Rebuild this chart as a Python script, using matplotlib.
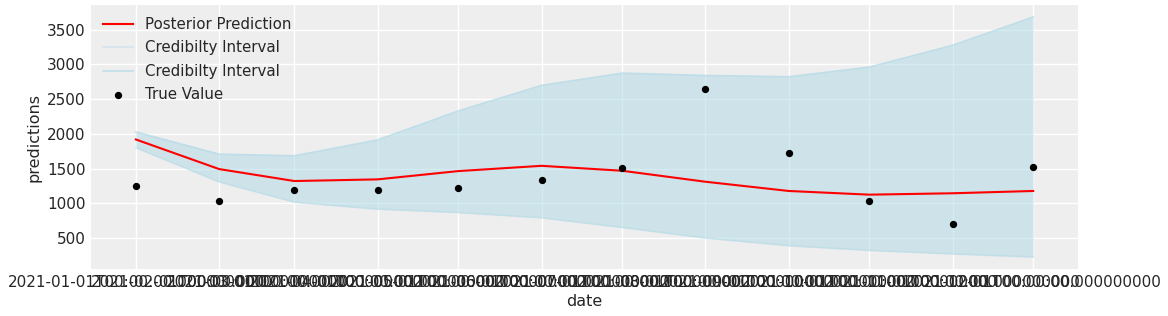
import numpy as np
import pandas as pd
import matplotlib
matplotlib.use("Agg")
import matplotlib.pyplot as plt

dates = pd.date_range("2021-01-01", periods=12, freq="MS")
true_value = [1250, 1040, 1185, 1196, 1216, 1335, 1503, 2650, 1718, 1030, 705, 1526]
posterior_mean = [1919, 1493, 1321, 1345, 1464, 1540, 1469, 1311, 1178, 1125, 1145, 1178]
upper = [2028, 1708, 1684, 1913, 2329, 2697, 2873, 2840, 2821, 2960, 3274, 3681]
lower = [1798, 1307, 1016, 916, 867, 791, 652, 500, 390, 322, 271, 228]
tick_labels = [str(d) for d in dates.values]

plt.rcParams['font.family'] = ['DejaVu Sans']
fig = plt.figure(figsize=(11.68, 3.16), dpi=100)
ax = fig.add_axes([0.0779, 0.1487, 0.8451, 0.8355])
ax.set_facecolor('#eeeeee')
for s in ax.spines.values():
    s.set_visible(False)
ax.grid(True, color='white', linewidth=1.0)
ax.set_axisbelow(True)

ax.plot(dates, posterior_mean, color='red', linewidth=1.5, label='Posterior Prediction')
ax.plot(dates, lower, color='lightblue', alpha=0.4, linewidth=1.2, label='Credibilty Interval')
ax.plot(dates, upper, color='lightblue', alpha=0.7, linewidth=1.2, label='Credibilty Interval')
ax.fill_between(dates, lower, upper, color='lightblue', alpha=0.5, linewidth=0)
ax.scatter(dates, true_value, color='black', s=18, zorder=3, label='True Value')

ax.set_xticks(dates)
ax.set_xticklabels(tick_labels)
ax.tick_params(axis='both', length=0, labelsize=11, labelcolor='#262626', pad=4)
ax.set_yticks([500, 1000, 1500, 2000, 2500, 3000, 3500])
ax.set_xlabel('date', fontsize=11.5, color='#262626', labelpad=3)
ax.set_ylabel('predictions', fontsize=11.5, color='#262626', labelpad=4)

leg = ax.legend(loc='upper left', frameon=False, fontsize=10.8, handlelength=2.0,
                labelspacing=0.56, borderaxespad=0.4)
for t in leg.get_texts():
    t.set_color('#262626')

fig.savefig('out.png', dpi=100)
